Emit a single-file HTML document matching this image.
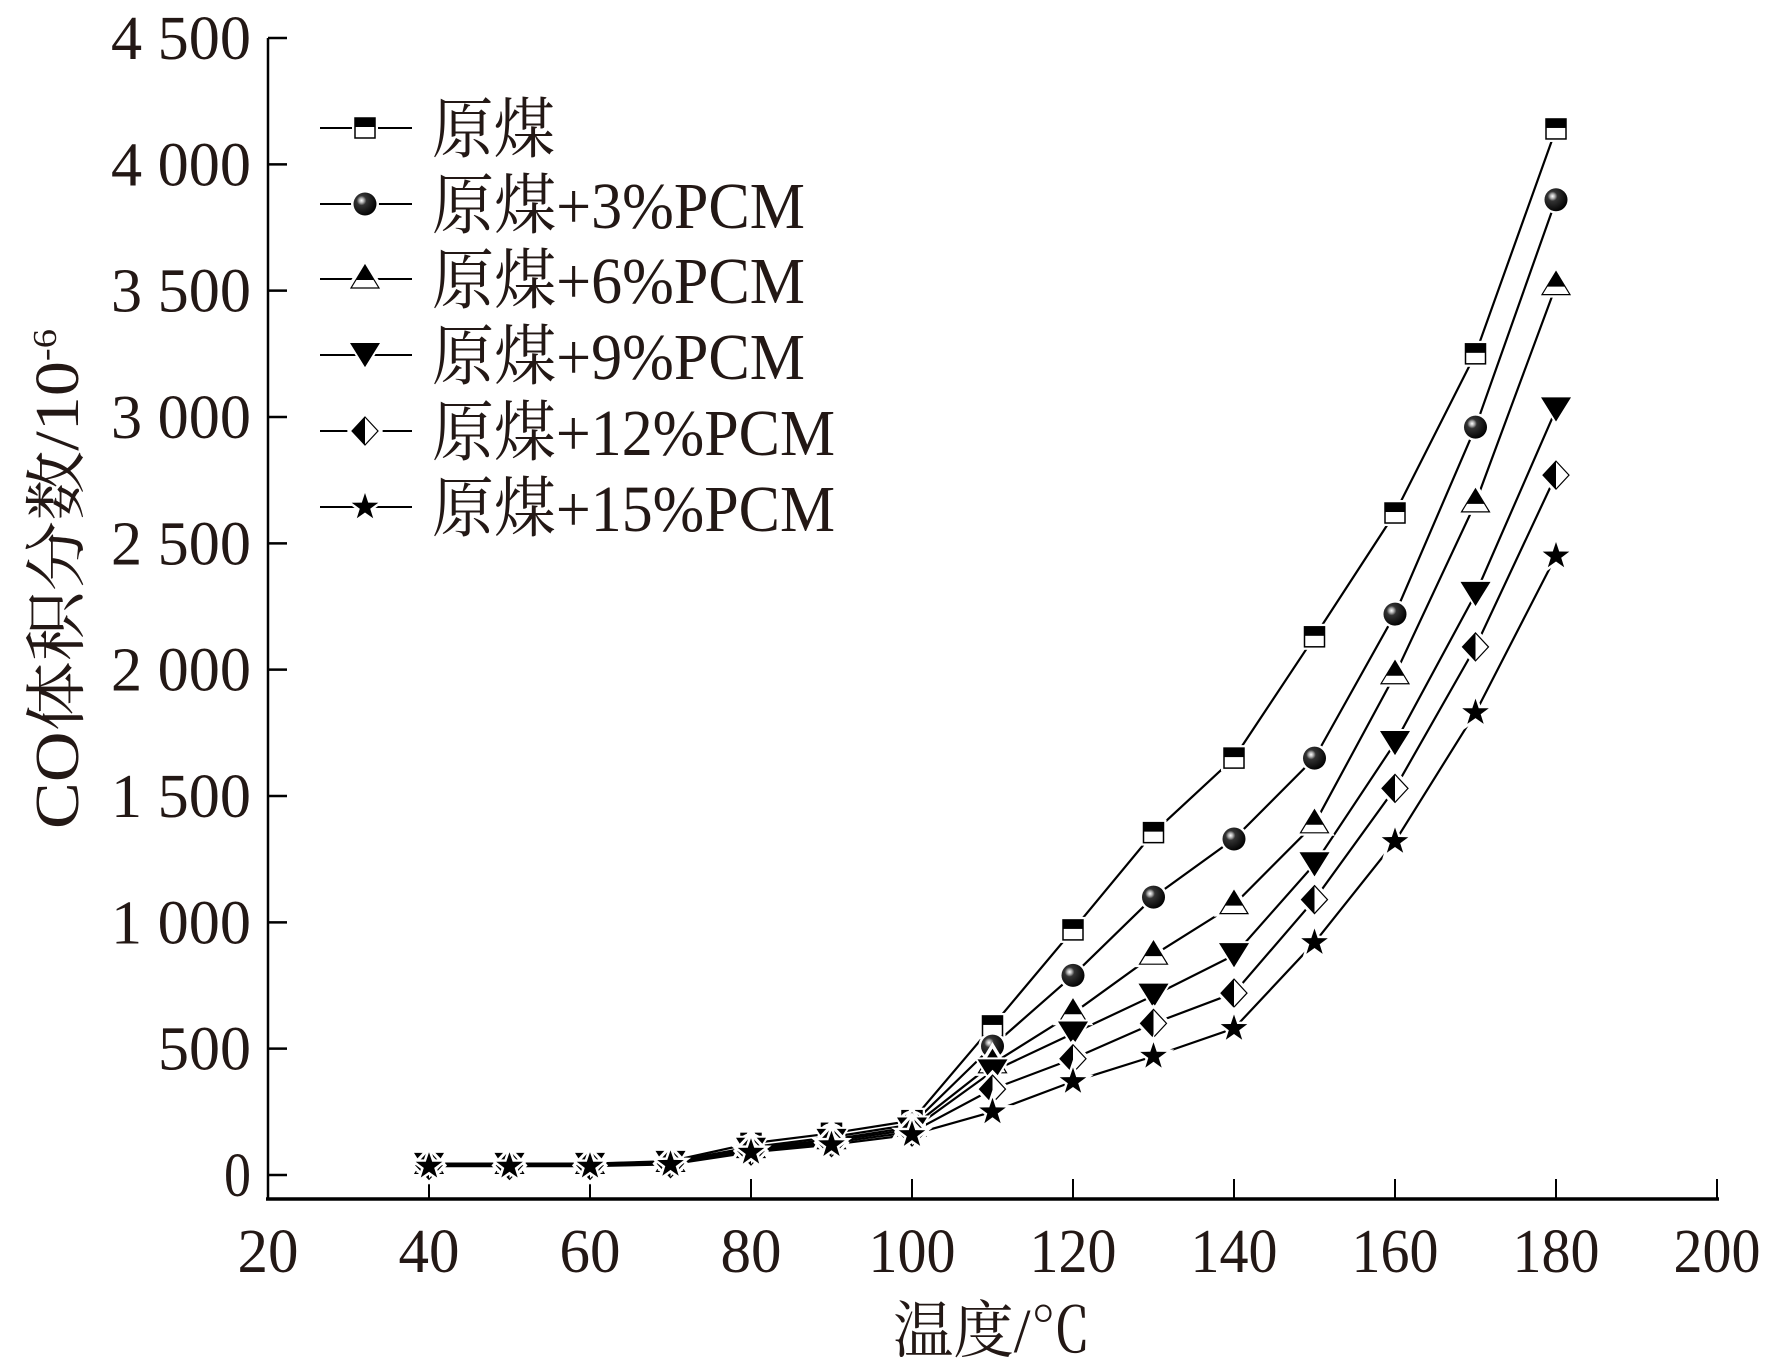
<!DOCTYPE html>
<html><head><meta charset="utf-8"><style>
html,body{margin:0;padding:0;background:#fff;}
svg{display:block;}
text{font-family:"Liberation Serif","Noto Serif CJK SC",serif;fill:#231815;}
</style></head><body>
<svg id="s" width="1771" height="1371" viewBox="0 0 1771 1371" xmlns="http://www.w3.org/2000/svg">
<defs>
<radialGradient id="g" cx="0.35" cy="0.35" r="0.7">
<stop offset="0" stop-color="#fff"/><stop offset="0.15" stop-color="#aaa"/><stop offset="0.3" stop-color="#333"/><stop offset="1" stop-color="#000"/>
</radialGradient>
</defs>
</svg>
<script>
const s=document.getElementById('s');const NS='http://www.w3.org/2000/svg';
function el(t,a,txt){const e=document.createElementNS(NS,t);for(const k in a)e.setAttribute(k,a[k]);if(txt!=null)e.textContent=txt;s.appendChild(e);return e;}
const X=v=>268+(v-20)*(1449/180), Y=v=>1175-v*(1137/4500);
el('line',{x1:268,y1:38,x2:268,y2:1200,stroke:'#000','stroke-width':2.5});
el('line',{x1:266,y1:1199,x2:1719,y2:1199,stroke:'#000','stroke-width':3.5});
for(let v=0;v<=4500;v+=500){el('line',{x1:268,y1:Y(v),x2:287,y2:Y(v),stroke:'#000','stroke-width':2.5});
 el('text',{x:251,y:Y(v)+21,'text-anchor':'end','font-size':62,textLength:(v<1000?(v==0?27:93):140),lengthAdjust:'spacingAndGlyphs'},v>=1000?(Math.floor(v/1000)+' '+String(v%1000).padStart(3,'0')):String(v));}
for(let v=20;v<=200;v+=20){el('line',{x1:X(v),y1:1179,x2:X(v),y2:1199,stroke:'#000','stroke-width':2});
 el('text',{x:X(v),y:1272,'text-anchor':'middle','font-size':62,textLength:(v>=100?87:61),lengthAdjust:'spacingAndGlyphs'},v);}
el('text',{x:992,y:1352,'text-anchor':'middle','font-size':62,textLength:198,lengthAdjust:'spacingAndGlyphs'},'温度/℃');
const yt=el('text',{x:0,y:0,'text-anchor':'middle','font-size':62,transform:'translate(78,579) rotate(-90)',textLength:500,lengthAdjust:'spacingAndGlyphs'},'CO体积分数/10');
const sp=document.createElementNS(NS,'tspan');sp.setAttribute('dy',-22);sp.setAttribute('font-size',34);sp.textContent='-6';yt.appendChild(sp);
const xs=[40,50,60,70,80,90,100,110,120,130,140,150,160,170,180];
const D=[
[45,45,45,55,125,165,215,590,970,1355,1650,2130,2620,3250,4140],
[45,45,45,52,110,150,200,510,790,1100,1330,1650,2220,2960,3860],
[42,42,42,50,105,140,190,440,640,870,1070,1390,1980,2660,3520],
[40,40,40,48,100,135,180,410,560,710,870,1230,1710,2300,3030],
[38,38,38,45,95,128,170,340,460,600,720,1090,1530,2090,2770],
[35,35,35,42,90,120,160,250,370,470,580,920,1320,1830,2450]];
function marker(k,x,y){
 if(k==0){el('rect',{x:x-10,y:y-10,width:20,height:20,fill:'#fff',stroke:'#fff','stroke-width':6});el('rect',{x:x-10,y:y-10,width:20,height:20,fill:'#fff',stroke:'#000','stroke-width':1.5});el('rect',{x:x-10,y:y-10,width:20,height:9,fill:'#000'});}
 else if(k==1){el('circle',{cx:x,cy:y,r:14,fill:'#fff'});el('circle',{cx:x,cy:y,r:11.5,fill:'url(#g)'});}
 else if(k==2){el('polygon',{points:`${x},${y-16} ${x+15},${y+9} ${x-15},${y+9}`,fill:'#fff',stroke:'#fff','stroke-width':6});el('polygon',{points:`${x},${y-14} ${x+14},${y+9} ${x-14},${y+9}`,fill:'#fff',stroke:'#000','stroke-width':1.2});el('polygon',{points:`${x},${y-14} ${x+9},${y+1} ${x-9},${y+1}`,fill:'#000'});}
 else if(k==3){el('polygon',{points:`${x-15},${y-12} ${x+15},${y-12} ${x},${y+12}`,fill:'#000',stroke:'#fff','stroke-width':4,'paint-order':'stroke'});el('polygon',{points:`${x-14},${y-11} ${x+14},${y-11} ${x},${y+12}`,fill:'#000'});}
 else if(k==4){el('polygon',{points:`${x},${y-15} ${x+14},${y} ${x},${y+15} ${x-14},${y}`,fill:'#fff',stroke:'#fff','stroke-width':6});el('polygon',{points:`${x},${y-14} ${x+13},${y} ${x},${y+14} ${x-13},${y}`,fill:'#fff',stroke:'#000','stroke-width':1.2});el('polygon',{points:`${x},${y-14} ${x},${y+14} ${x-13},${y}`,fill:'#000'});}
 else {let p=[];for(let i=0;i<10;i++){const r=i%2?5.5:14,a=-Math.PI/2+i*Math.PI/5;p.push((x+r*Math.cos(a)).toFixed(1)+','+(y+r*Math.sin(a)).toFixed(1));}
  el('polygon',{points:p.join(' '),fill:'#000',stroke:'#fff','stroke-width':5,'paint-order':'stroke'});}
}
for(let k=0;k<6;k++){el('polyline',{points:xs.map((x,i)=>X(x)+','+Y(D[k][i])).join(' '),fill:'none',stroke:'#000','stroke-width':2.2});}
for(let k=0;k<6;k++){xs.forEach((x,i)=>marker(k,X(x),Y(D[k][i])));}
const labels=['原煤','原煤+3%PCM','原煤+6%PCM','原煤+9%PCM','原煤+12%PCM','原煤+15%PCM'];
const lw=[123,373,373,373,403,403];
const ly=[128,204,279,355,431,507];
labels.forEach((t,k)=>{el('line',{x1:320,y1:ly[k],x2:412,y2:ly[k],stroke:'#000','stroke-width':2});marker(k,365,ly[k]);
 el('text',{x:432,y:ly[k]+24,'font-size':66,textLength:lw[k],lengthAdjust:'spacingAndGlyphs'},t);});
</script>
</body></html>
